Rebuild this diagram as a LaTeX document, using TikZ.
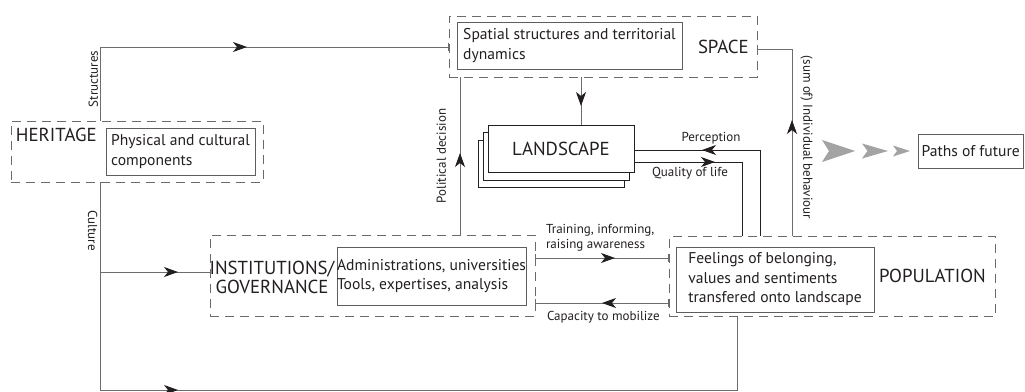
\documentclass[tikz,border=0pt]{standalone}
\usepackage{fontspec}
\setmainfont{PT Sans}
\usetikzlibrary{arrows.meta,decorations.markings}

\definecolor{ink}{HTML}{231F20}
\definecolor{linegray}{HTML}{6D6D6D}
\definecolor{boxgray}{HTML}{5E5E5E}
\definecolor{dashgray}{HTML}{6A6A6A}
\definecolor{futgray}{HTML}{A3A3A3}

\tikzset{
  fwd/.style={postaction={decorate},
    decoration={markings, mark=at position #1 with
      {\arrow{Stealth[length=14pt,width=10pt,inset=4pt,color=ink]}}}},
  group/.style={draw=dashgray, line width=0.9pt, dash pattern=on 9pt off 6pt,
    anchor=north west, inner sep=0pt},
  textbox/.style={draw=boxgray, line width=0.9pt, anchor=north west, align=left,
    font=\fontsize{15.6}{19.5}\selectfont},
  stackbox/.style={draw=ink, line width=0.8pt, fill=white, anchor=north west,
    minimum width=146pt, minimum height=47.5pt},
  biglabel/.style={font=\fontsize{18.8}{19}\selectfont},
  smalllabel/.style={font=\fontsize{13}{15}\selectfont},
  conn/.style={draw=linegray, line width=0.9pt},
  darkconn/.style={draw=ink, line width=1pt},
  endbar/.style={-{Bar[width=8pt]}},
  bothbar/.style={{Bar[width=8pt]}-{Bar[width=8pt]}},
}

\begin{document}
\begin{tikzpicture}[x=1pt, y=-1pt,
  every node/.style={inner sep=0pt, outer sep=0pt, text=ink}]
\fill[white] (0,0) rectangle (1025,391);
\useasboundingbox (0,0) rectangle (1025,391);

% group frames
\node[group, minimum width=252pt, minimum height=61pt] (her) at (11,121) {};
\node[group, minimum width=308pt, minimum height=61pt] (space) at (449,16) {};
\node[group, minimum width=325pt, minimum height=81pt] (inst) at (210,235) {};
\node[group, minimum width=326pt, minimum height=80.5pt] (pop) at (669,236) {};

% group titles
\node[biglabel, anchor=base west] (hertitle) at (16,141) {HERITAGE};
\node[biglabel, anchor=base west] (spacetitle) at (698,53) {SPACE};
\node[biglabel, align=center] (insttitle) at (272,277.5) {INSTITUTIONS/\\GOVERNANCE};
\node[biglabel, anchor=base west] (poptitle) at (879,282) {POPULATION};

% content boxes
\node[textbox, minimum width=149pt, minimum height=47pt] (phys) at (106,128)
  {Physical and cultural\\components};
\node[textbox, minimum width=225pt, minimum height=47pt] (spat) at (457,22)
  {Spatial structures and territorial\\dynamics};
\node[textbox, minimum width=189pt, minimum height=58pt] (adm) at (337,247)
  {Administrations, universities\\Tools, expertises, analysis};
\node[textbox, minimum width=198pt, minimum height=65pt] (feel) at (676,247)
  {Feelings of belonging,\\values and sentiments\\transfered onto landscape};
\node[textbox, minimum width=105.5pt, minimum height=34pt] (paths) at (918,134)
  {Paths of future};

% landscape stack
\node[stackbox] (land3) at (478,140) {};
\node[stackbox] (land2) at (483,132.5) {};
\node[stackbox, biglabel] (land) at (488,125) {LANDSCAPE};

% routing columns and rows
\coordinate (xs) at (100.5,0);
\coordinate (ys) at (0,47);
\coordinate (xland) at (581,0);
\coordinate (xpol) at (460,0);
\coordinate (xperc) at (760,0);
\coordinate (yperc) at (0,150);
\coordinate (xqual) at (742,0);
\coordinate (yqual) at (0,162);
\coordinate (xind) at (792,0);
\coordinate (yind) at (0,49);
\coordinate (ycul) at (0,272);
\coordinate (ybot) at (0,390);
\coordinate (xpop) at (737,0);
\coordinate (ytrain) at (0,258);
\coordinate (ycap) at (0,303);

% connectors
\draw[conn, endbar, fwd=220.5pt] (her.north -| xs) -- (xs |- ys) -- (space.west |- ys);
\draw[conn, fwd=29pt] (space.south -| xland) -- (land.north -| xland);
\draw[conn, fwd=82pt] (inst.north -| xpol) -- (space.south -| xpol);
\draw[darkconn, fwd=144pt] (pop.north -| xperc) -- (xperc |- yperc) -- (land.east |- yperc);
\draw[darkconn, fwd=81pt] (land.east |- yqual) -- (xqual |- yqual) -- (pop.north -| xqual);
\draw[conn, endbar, fwd=116pt] (pop.north -| xind) -- (xind |- yind) -- (space.east |- yind);
\draw[conn, fwd=285.5pt] (her.south -| xs) -- (xs |- ybot) -- (xpop |- ybot) -- (pop.south -| xpop);
\draw[conn, fwd=77.5pt] (xs |- ycul) -- (inst.west |- ycul);
\draw[conn, bothbar, fwd=80pt] (inst.east |- ytrain) -- (pop.west |- ytrain);
\draw[conn, bothbar, fwd=67pt] (pop.west |- ycap) -- (inst.east |- ycap);

% connector labels
\node[smalllabel, rotate=90, anchor=south] (lstruct) at (98,79) {Structures};
\node[smalllabel, rotate=-90, anchor=north] (lcult) at (97.5,230.5) {Culture};
\node[smalllabel, rotate=90, anchor=south] (lpol) at (446,156) {Political decision};
\node[smalllabel, rotate=-90, anchor=south] (lind) at (800.5,137.5) {(sum of) Individual behaviour};
\node[smalllabel, anchor=base] (lperc) at (711,141) {Perception};
\node[smalllabel, anchor=base] (lqual) at (690,176.5) {Quality of life};
\node[smalllabel, anchor=west, align=left] (ltrain) at (546,237.8) {Training, informing,\\raising awareness};
\node[smalllabel, anchor=base west] (lcap) at (547,320) {Capacity to mobilize};

% arrows towards the future paths
\fill[futgray] (822,140) -- (855,151) -- (822,162) -- (829,151) -- cycle;
\fill[futgray] (862,143.5) -- (888,151) -- (862,158.5) -- (867.5,151) -- cycle;
\fill[futgray] (893,145.5) -- (910,151) -- (893,156.5) -- (897,151) -- cycle;
\end{tikzpicture}
\end{document}
